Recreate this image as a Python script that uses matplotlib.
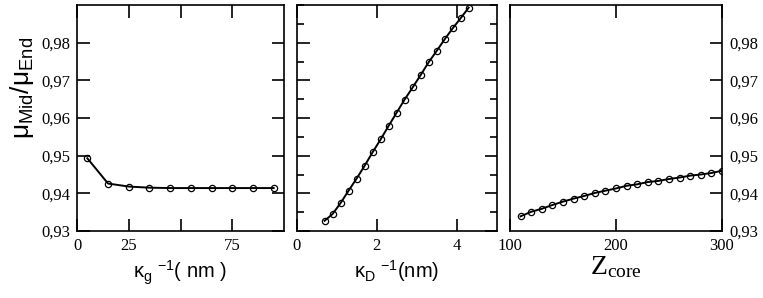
import matplotlib.pyplot as plt
from matplotlib.ticker import MultipleLocator

# panel 1: screening length of the gel
kappa_g = [5, 15, 25, 35, 45, 55, 65, 75, 85, 95]
ratio_g = [0.9493, 0.9426, 0.9418, 0.9415, 0.9414, 0.9414, 0.9414, 0.9414, 0.9414, 0.9414]

# panel 2: Debye length
kappa_D = [0.7, 0.9, 1.1, 1.3, 1.5, 1.7, 1.9, 2.1, 2.3, 2.5,
           2.7, 2.9, 3.1, 3.3, 3.5, 3.7, 3.9, 4.1, 4.3]
ratio_D = [0.9327, 0.9345, 0.9374, 0.9407, 0.9439, 0.9473, 0.9509, 0.9543, 0.9579, 0.9614,
           0.9649, 0.9681, 0.9714, 0.9748, 0.9778, 0.9809, 0.9838, 0.9865, 0.9893]

# panel 3: core charge
z_core = [110, 120, 130, 140, 150, 160, 170, 180, 190, 200,
          210, 220, 230, 240, 250, 260, 270, 280, 290, 300]
ratio_z = [0.9339, 0.9351, 0.9359, 0.9369, 0.9378, 0.9386, 0.9393, 0.9401, 0.9407, 0.9413,
           0.9420, 0.9424, 0.9430, 0.9433, 0.9438, 0.9442, 0.9447, 0.9450, 0.9454, 0.9460]

yticks = [0.93, 0.94, 0.95, 0.96, 0.97, 0.98]
ytick_labels = ["0,93", "0,94", "0,95", "0,96", "0,97", "0,98"]

xticks_g = [0, 25, 50, 75]
xtick_labels_g = ["0", "25", "", "75"]
xticks_D = [0, 2, 4]
xtick_labels_D = ["0", "2", "4"]
xticks_z = [100, 200, 300]
xtick_labels_z = ["100", "200", "300"]

serif = "Liberation Serif"
sans = "Liberation Sans"

fig = plt.figure(figsize=(7.63, 2.98), dpi=100)

bottom = 1 - 231 / 298
top = 1 - 5 / 298
height = top - bottom


def style(ax):
    for s in ax.spines.values():
        s.set_linewidth(1.2)
    ax.tick_params(which="both", direction="in", top=True, right=True,
                   width=1.2, labelsize=12, pad=5)
    ax.tick_params(which="major", length=9)
    ax.tick_params(which="minor", length=5)
    for lab in ax.get_xticklabels() + ax.get_yticklabels():
        lab.set_fontfamily(serif)
    ax.set_ylim(0.93, 0.99)
    ax.set_yticks(yticks)


line_kw = dict(color="black", lw=1.4, marker="o", ms=4.5, mfc="none", mec="black", mew=0.9)

ax1 = fig.add_axes([77 / 763, bottom, (284 - 77) / 763, height])
ax1.plot(kappa_g, ratio_g, **line_kw)
ax1.set_xlim(0, 100)
ax1.set_xticks(xticks_g)
ax1.set_xticklabels(xtick_labels_g)
ax1.set_yticks(yticks)
ax1.set_yticklabels(ytick_labels)
style(ax1)
ax1.set_xlabel(r"$\mathregular{\kappa_g\;^{-1}}$( nm )", fontfamily=sans, fontsize=14.5, labelpad=3)

ax2 = fig.add_axes([296.5 / 763, bottom, (496.7 - 296.5) / 763, height])
ax2.plot(kappa_D, ratio_D, **line_kw)
ax2.set_xlim(0, 5)
ax2.set_xticks(xticks_D)
ax2.set_xticklabels(xtick_labels_D)
ax2.yaxis.set_minor_locator(MultipleLocator(0.005))
style(ax2)
ax2.set_yticklabels([])
ax2.set_xlabel(r"$\mathregular{\kappa_D\;^{-1}}$(nm)", fontfamily=sans, fontsize=14.5, labelpad=3)

ax3 = fig.add_axes([510 / 763, bottom, (722 - 510) / 763, height])
ax3.plot(z_core, ratio_z, **line_kw)
ax3.set_xlim(100, 300)
ax3.set_xticks(xticks_z)
ax3.set_xticklabels(xtick_labels_z)
ax3.yaxis.tick_right()
ax3.set_yticks(yticks)
ax3.set_yticklabels(ytick_labels)
style(ax3)
ax3.tick_params(labelleft=False, labelright=True)
ax3.set_xlabel(r"$\mathregular{Z_{core}}$", fontfamily=serif, fontsize=20, labelpad=0)

fig.text(22 / 763, 1 - 88 / 298, r"$\mathregular{\mu_{Mid}/\mu_{End}}$", fontfamily=sans,
         fontsize=19, rotation=90, ha="center", va="center")

fig.savefig("out.png", dpi=100)
